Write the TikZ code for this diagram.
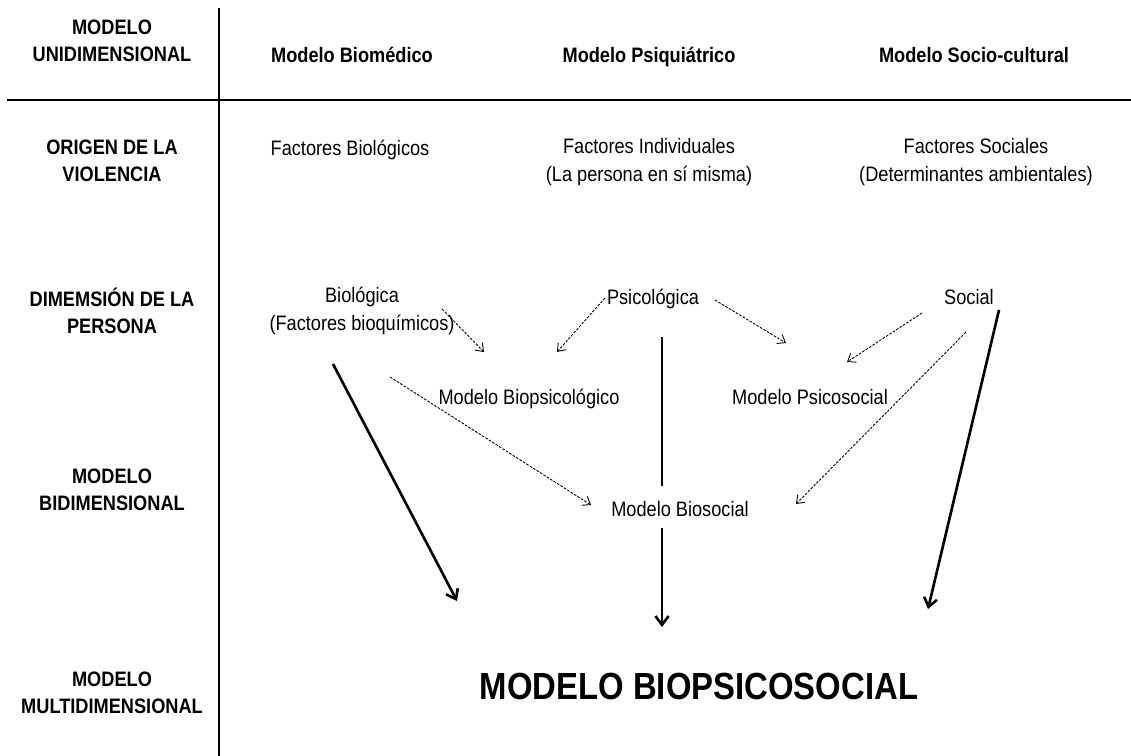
\documentclass[tikz,border=0pt]{standalone}
\usepackage{fontspec}
\setmainfont{Liberation Sans}[FakeStretch=0.87]
\usetikzlibrary{arrows.meta}
\tikzstyle{rowlabel}=[font=\bfseries, align=center, inner sep=0pt]
\tikzstyle{colhead}=[font=\bfseries, inner sep=0pt, anchor=base]
\tikzstyle{entry}=[align=center, inner sep=0pt]
\tikzstyle{single}=[inner sep=0pt, anchor=base]
\tikzstyle{gridline}=[line width=1.6pt]
\tikzstyle{link}=[-{Straight Barb[length=4pt,width=6pt]}, line width=0.5pt, dash pattern=on 1.5pt off 0.8pt]
\tikzstyle{flow}=[-{Straight Barb[length=5pt,width=7.5pt]}, line width=1.5pt]

\begin{document}
\fontsize{11.9}{15.5}\selectfont
\begin{tikzpicture}[x=0.02cm, y=-0.02cm]
\useasboundingbox (0,0) rectangle (1131,756);

% table lines
\coordinate (vtop) at (219,8);
\coordinate (vbot) at (219,756);
\coordinate (hleft) at (7,100);
\coordinate (hright) at (1131,100);
\draw[gridline] (vtop) -- (vbot);
\draw[gridline] (hleft) -- (hright);

% row labels
\node[rowlabel] at (112,41) (uni) {MODELO\\UNIDIMENSIONAL};
\node[rowlabel] at (112,161) (orig) {ORIGEN DE LA\\VIOLENCIA};
\node[rowlabel] at (112,311) (dim) {DIMEMSIÓN DE LA\\PERSONA};
\node[rowlabel] at (112,490) (bid) {MODELO\\BIDIMENSIONAL};
\node[rowlabel] at (112,693) (multi) {MODELO\\MULTIDIMENSIONAL};

% column heads (baselines)
\node[colhead] at (352,63) (biomed) {Modelo Biomédico};
\node[colhead] at (649,63) (psiq) {Modelo Psiquiátrico};
\node[colhead] at (974,63) (socio) {Modelo Socio-cultural};

% origin
\node[single] at (350,156) (fbio) {Factores Biológicos};
\node[entry] at (649,162) (find) {Factores Individuales\\(La persona en sí misma)};
\node[entry] at (976,162) (fsoc) {Factores Sociales\\(Determinantes ambientales)};

% dimensions
\node[entry] at (362,311) (bio) {Biológica\\(Factores bioquímicos)};
\node[single] at (653,305) (psi) {Psicológica};
\node[single] at (969,305) (soc) {Social};

% two dimensions
\node[single] at (529,404) (biopsi) {Modelo Biopsicológico};
\node[single] at (810,404) (psisoc) {Modelo Psicosocial};
\node[single] at (680,516) (biosoc) {Modelo Biosocial};

% all dimensions
\node[single, font=\bfseries\fontsize{21.5}{25}\selectfont] at (699,699) (bps) {MODELO BIOPSICOSOCIAL};

% arrow ends
\coordinate (bioA) at (442,309);   \coordinate (biopsiA) at (484,352);
\coordinate (psiA) at (605,298);   \coordinate (biopsiB) at (557,352);
\coordinate (psiB) at (715,300);   \coordinate (psisocA) at (786,343);
\coordinate (socA) at (922,313);   \coordinate (psisocB) at (847,362);
\coordinate (socB) at (966,332);   \coordinate (biosocA) at (796,504);
\coordinate (bioB) at (390,377);   \coordinate (biosocB) at (591,505);
\coordinate (bioC) at (333,364);   \coordinate (bpsA) at (457,601);
\coordinate (psiC) at (662,337);   \coordinate (biosocC) at (662,486);
\coordinate (biosocD) at (662,528); \coordinate (bpsB) at (662,627);
\coordinate (socC) at (999,310);   \coordinate (bpsC) at (928,609);

\draw[link] (bioA) -- (biopsiA);
\draw[link] (psiA) -- (biopsiB);
\draw[link] (psiB) -- (psisocA);
\draw[link] (socA) -- (psisocB);
\draw[link] (socB) -- (biosocA);
\draw[link] (bioB) -- (biosocB);

\draw[flow] (bioC) -- (bpsA);
\draw[line width=1.5pt] (psiC) -- (biosocC);
\draw[flow] (biosocD) -- (bpsB);
\draw[flow] (socC) -- (bpsC);
\end{tikzpicture}
\end{document}
